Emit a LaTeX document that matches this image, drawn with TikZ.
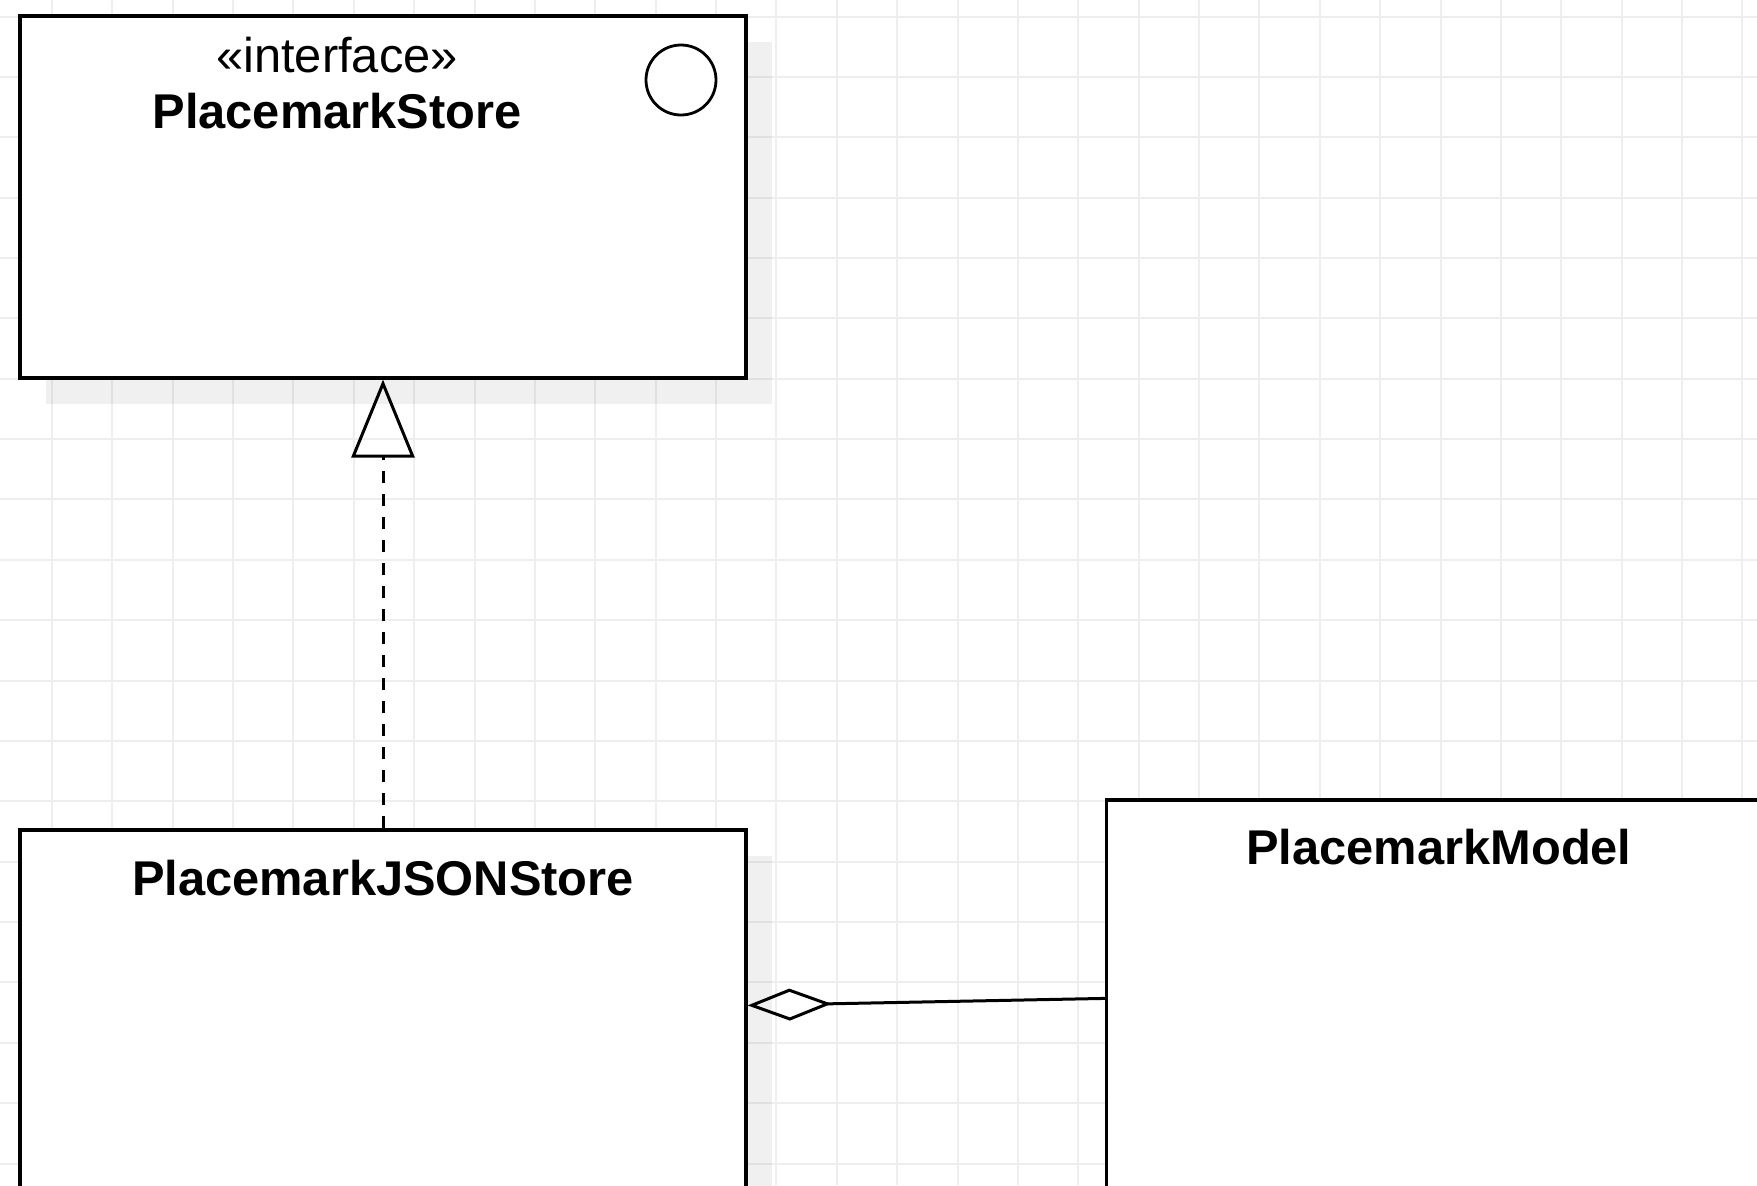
\documentclass[tikz,border=0pt]{standalone}
\usepackage{fontspec}
\setmainfont{Liberation Sans}
\usetikzlibrary{arrows.meta,shadows,calc}
\definecolor{gridc}{HTML}{EEEEEE}
\begin{document}
\begin{tikzpicture}[x=0.5pt,y=-0.5pt,
  box/.style={draw=black, line width=1.6pt, fill=white, rectangle, inner sep=0pt,
    drop shadow={shadow xshift=13pt, shadow yshift=-13pt, fill=black, opacity=0.06}},
  classtitle/.style={font=\fontsize{24.4}{28}\selectfont\bfseries, anchor=base, inner sep=0pt},
  stereo/.style={font=\fontsize{24.4}{28}\selectfont, anchor=base, inner sep=0pt},
  conn/.style={line width=1.5pt, draw=black},
  gridline/.style={draw=gridc, line width=1pt}]
\useasboundingbox (0,0) rectangle (1757,1185);
\clip (0,0) rectangle (1757,1185);
\fill[white] (0,0) rectangle (1757,1185);
\foreach \i in {0,...,28} \draw[gridline] ({52+\i*60.37},0) -- ({52+\i*60.37},1185);
\foreach \j in {0,...,19} \draw[gridline] (0,{16.5+\j*60.37}) -- (1757,{16.5+\j*60.37});

% interface box
\node[box, minimum width=363pt, minimum height=181pt] (store) at (383,197) {};
\node[stereo] (storestereo) at (337,72) {«interface»};
\node[classtitle] (storetitle) at (337,128) {PlacemarkStore};
\node[draw=black, circle, line width=1.4pt, minimum size=35pt, inner sep=0pt] (icon) at (681,80) {};

% JSON store box
\node[box, minimum width=363pt, minimum height=250pt] (json) at (383,1080) {};
\node[classtitle] (jsontitle) at (383,895) {PlacemarkJSONStore};

% model box
\node[box, minimum width=366.5pt, minimum height=250pt] (model) at (1473,1050) {};
\node[classtitle] (modeltitle) at (1439,864) {PlacemarkModel};

% realization
\draw[conn, dash pattern=on 6pt off 5.5pt,
  -{Triangle[open, length=39pt, width=31.5pt]}] (json.north) -- (store.south);

% aggregation
\draw[conn, {Diamond[open, length=42pt, width=16pt]}-]
  ($(json.north east)+(0,177)$) -- ($(model.north west)+(0,200)$);
\end{tikzpicture}
\end{document}
